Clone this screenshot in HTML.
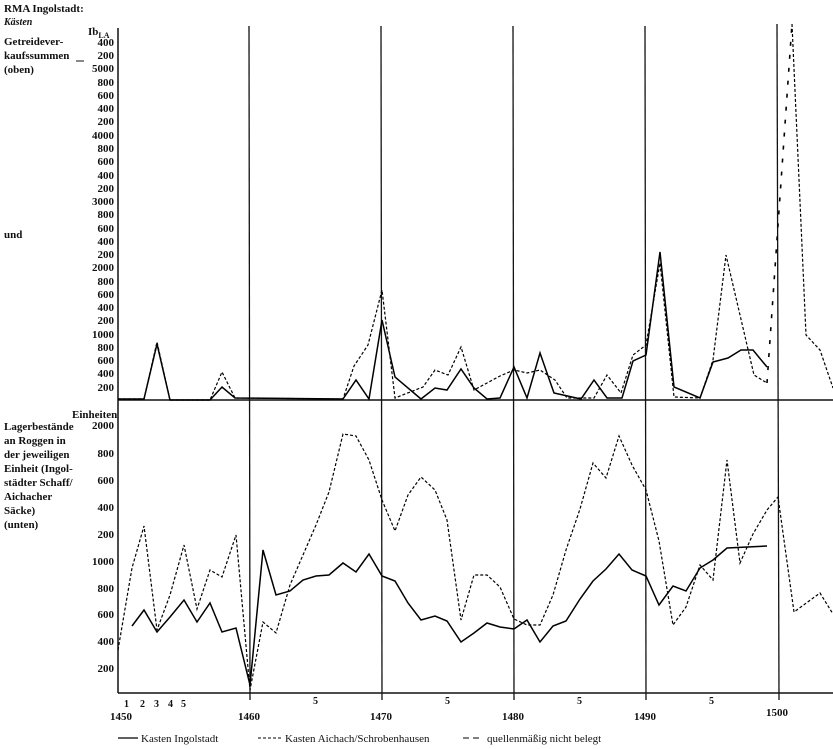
<!DOCTYPE html>
<html><head><meta charset="utf-8"><style>
html,body{margin:0;padding:0;background:#fff}
svg{display:block;font-family:"Liberation Serif",serif;font-weight:bold;font-size:11px}
</style></head><body>
<svg width="833" height="749" viewBox="0 0 833 749">
<g fill="#111">
<text x="4" y="12">RMA Ingolstadt:</text>
<text x="4" y="25" font-style="italic" font-size="10">Kästen</text>
<text x="4" y="45">Getreidever-</text>
<text x="4" y="59">kaufssummen</text>
<text x="4" y="73">(oben)</text>
<text x="4" y="238">und</text>
<text x="4" y="430">Lagerbestände</text>
<text x="4" y="444">an Roggen in</text>
<text x="4" y="458">der jeweiligen</text>
<text x="4" y="472">Einheit (Ingol-</text>
<text x="4" y="486">städter Schaff/</text>
<text x="4" y="500">Aichacher</text>
<text x="4" y="514">Säcke)</text>
<text x="4" y="528">(unten)</text>
<text x="88" y="35">Ib<tspan font-size="8" dy="3">LA</tspan></text>
<text x="72" y="418">Einheiten</text>
<line x1="76" y1="61" x2="84" y2="61" stroke="#111"/>
</g>
<g stroke="#111" fill="none">
<line x1="118" y1="28" x2="118" y2="693" stroke-width="1.5"/>
<line x1="118" y1="400" x2="833" y2="400" stroke-width="1.5"/>
<line x1="118" y1="693" x2="833" y2="693" stroke-width="1.5"/>
<line x1="249" y1="26" x2="250" y2="700" stroke-width="1.3"/>
<line x1="381" y1="26" x2="382" y2="700" stroke-width="1.3"/>
<line x1="513" y1="26" x2="514" y2="700" stroke-width="1.3"/>
<line x1="645" y1="26" x2="646" y2="700" stroke-width="1.3"/>
<line x1="777" y1="24" x2="779" y2="700" stroke-width="1.3"/>
</g>
<g stroke="#000" fill="none" stroke-width="1.5">
<polyline points="118,399 144,399 157,344 170,400 210,400 222,387 235,398 343,399 356,380 369,399 382,320 395,377 421,399 435,388 447,390 461,369 474,388 487,399 500,398 514,367 527,398 540,353 554,393 581,399 594,380 607,398 622,398 633,361 646,355 660,252 674,387 700,398 713,362 728,358 741,350 753,350 767,367"/>
<polyline points="132,626 144,610 157,632 170,617 184,600 197,622 210,603 222,632 236,628 250,685 263,550 276,595 290,591 303,580 316,576 329,575 343,563 356,572 369,554 382,576 395,581 408,603 421,620 435,616 447,621 461,642 474,633 487,623 500,627 514,629 527,620 540,642 553,626 566,621 580,599 593,581 606,569 619,554 632,570 646,576 659,605 673,586 686,591 700,568 713,560 727,548 767,546"/>
</g>
<g stroke="#000" fill="none" stroke-width="1.2" stroke-dasharray="3,2">
<polyline points="118,399 144,399 157,342 170,400 210,400 222,372 235,398 343,399 354,366 368,345 382,290 395,398 423,387 435,370 448,375 461,347 474,390 487,383 500,376 514,370 527,373 540,370 555,380 567,398 594,398 607,375 621,393 633,355 646,345 660,263 674,397 700,398 713,360 726,255 754,375 767,383"/>
<polyline points="792,24 806,335 820,350 833,388"/>
<polyline points="118,650 132,568 144,526 157,630 170,595 184,545 197,609 210,570 222,577 236,535 250,690 263,622 276,633 290,585 303,555 316,525 329,492 343,434 356,436 369,460 382,500 395,531 408,495 421,477 435,490 447,520 461,620 474,575 487,575 500,587 514,619 527,625 540,625 553,595 566,550 580,509 593,463 606,478 619,436 632,465 646,490 659,541 673,625 686,607 700,565 713,580 727,460 740,563 753,534 767,510 778,497 794,612 820,593 833,614"/>
</g>
<polyline points="767,383 792,24" stroke="#000" fill="none" stroke-width="1.6" stroke-dasharray="4,9"/>
<g fill="#111">
<text x="124" y="707" font-size="10">1</text><text x="140" y="707" font-size="10">2</text><text x="154" y="707" font-size="10">3</text><text x="168" y="707" font-size="10">4</text><text x="181" y="707" font-size="10">5</text>
<text x="313" y="704" font-size="10">5</text><text x="445" y="704" font-size="10">5</text><text x="577" y="704" font-size="10">5</text><text x="709" y="704" font-size="10">5</text>
<text x="110" y="720">1450</text><text x="238" y="720">1460</text><text x="370" y="720">1470</text><text x="502" y="720">1480</text><text x="634" y="720">1490</text><text x="766" y="716">1500</text>
<text x="141" y="742" font-weight="normal">Kasten Ingolstadt</text>
<text x="285" y="742" font-weight="normal">Kasten Aichach/Schrobenhausen</text>
<text x="487" y="742" font-weight="normal">quellenmäßig nicht belegt</text>
</g>
<line x1="118" y1="738" x2="138" y2="738" stroke="#000" stroke-width="1.3"/>
<line x1="258" y1="738" x2="282" y2="738" stroke="#000" stroke-dasharray="3,2"/>
<line x1="463" y1="738" x2="483" y2="738" stroke="#000" stroke-dasharray="6,4"/>
<g fill="#111" text-anchor="end" font-size="11">
<text x="114" y="46">400</text><text x="114" y="59">200</text><text x="114" y="72">5000</text><text x="114" y="86">800</text><text x="114" y="99">600</text><text x="114" y="112">400</text><text x="114" y="125">200</text><text x="114" y="139">4000</text><text x="114" y="152">800</text><text x="114" y="165">600</text><text x="114" y="179">400</text><text x="114" y="192">200</text><text x="114" y="205">3000</text><text x="114" y="218">800</text><text x="114" y="232">600</text><text x="114" y="245">400</text><text x="114" y="258">200</text><text x="114" y="271">2000</text><text x="114" y="285">800</text><text x="114" y="298">600</text><text x="114" y="311">400</text><text x="114" y="324">200</text><text x="114" y="338">1000</text><text x="114" y="351">800</text><text x="114" y="364">600</text><text x="114" y="377">400</text><text x="114" y="391">200</text>
<text x="114" y="429">2000</text><text x="114" y="457">800</text><text x="114" y="484">600</text><text x="114" y="511">400</text><text x="114" y="538">200</text><text x="114" y="565">1000</text><text x="114" y="592">800</text><text x="114" y="618">600</text><text x="114" y="645">400</text><text x="114" y="672">200</text>
</g>
</svg>
</body></html>
